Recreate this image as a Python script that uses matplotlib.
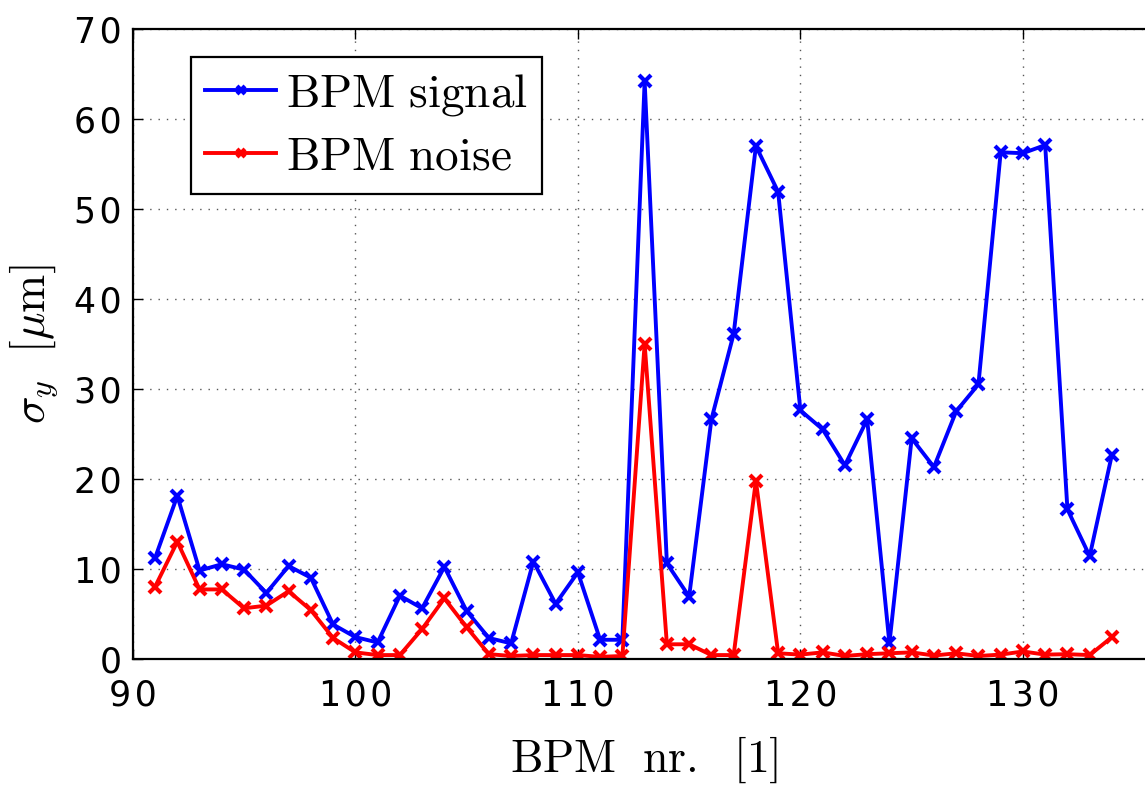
import matplotlib
matplotlib.use('Agg')
import matplotlib.pyplot as plt
import numpy as np

plt.rcParams['mathtext.fontset'] = 'cm'
plt.rcParams['font.family'] = 'DejaVu Sans'

# BPM number on x
bpm = np.arange(91, 135)

# sigma_y of the BPM signal [um]
signal = [11.2, 18.1, 9.8, 10.5, 9.9, 7.3, 10.3, 9.0, 3.8, 2.4,
          1.8, 7.0, 5.6, 10.2, 5.3, 2.3, 1.7, 10.8, 6.1, 9.6,
          2.1, 2.1, 64.2, 10.6, 6.9, 26.6, 36.1, 57.0, 51.9, 27.6,
          25.5, 21.5, 26.6, 1.7, 24.5, 21.3, 27.5, 30.5, 56.3, 56.2,
          57.1, 16.6, 11.4, 22.7]

# sigma_y of the BPM noise [um]
noise = [8.0, 13.0, 7.7, 7.7, 5.6, 5.9, 7.5, 5.4, 2.3, 0.7,
         0.4, 0.4, 3.3, 6.7, 3.5, 0.5, 0.3, 0.4, 0.4, 0.4,
         0.2, 0.3, 35.0, 1.6, 1.6, 0.4, 0.4, 19.8, 0.6, 0.45,
         0.7, 0.3, 0.5, 0.6, 0.7, 0.35, 0.6, 0.3, 0.45, 0.8,
         0.45, 0.5, 0.4, 2.4]

xticks = [90, 100, 110, 120, 130]
yticks = list(range(0, 71, 10))

def spaced(v):
    # matlab style wide digits
    return '\u200a'.join(str(v))

fig = plt.figure(figsize=(11.45, 7.86), dpi=100)
ax = fig.add_axes([0.116, 0.162, 0.894, 0.801])

ax.plot(bpm, signal, '-x', color='#0000ff', lw=2.8, ms=9, mew=3.0, label=r'$\mathrm{BPM\ signal}$')
ax.plot(bpm, noise, '-x', color='#ff0000', lw=2.8, ms=9, mew=3.0, label=r'$\mathrm{BPM\ noise}$')

ax.set_xlim(90, 136)
ax.set_ylim(0, 70)
ax.set_xticks(xticks)
ax.set_xticklabels([spaced(v) for v in xticks])
ax.set_yticks(yticks)
ax.set_yticklabels([spaced(v) for v in yticks])
ax.tick_params(direction='in', length=7, width=1, labelsize=25, top=True, right=False)
ax.tick_params(axis='x', pad=14)
ax.tick_params(axis='y', pad=8)
ax.grid(True, linestyle=(0, (1, 5)), color='#555555', lw=1)
for s in ax.spines.values():
    s.set_linewidth(1.6)

ax.set_xlabel(r'$\mathrm{BPM\ \ nr.\ \ [1]}$', fontsize=33, labelpad=16)
ax.set_ylabel(r'$\sigma_y\ \ [\mu\mathrm{m}]$', fontsize=33, labelpad=10)

leg = ax.legend(loc='upper left', bbox_to_anchor=(0.057, 0.955), borderaxespad=0,
                fontsize=34, fancybox=False, edgecolor='black', framealpha=1,
                handlelength=1.5, borderpad=0.3, labelspacing=0.35, handletextpad=0.2)
leg.get_frame().set_linewidth(1.6)
for h in leg.legend_handles:
    h.set_markersize(6)

fig.savefig('out.png', dpi=100)
